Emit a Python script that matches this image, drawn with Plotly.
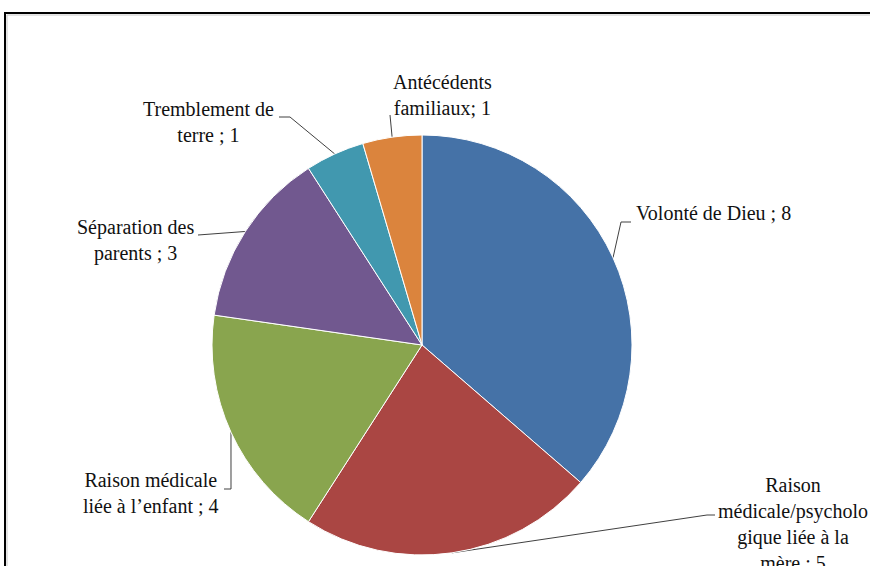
import math
import plotly.graph_objects as go

# ---- data ----
categories = ["Volonté de Dieu",
              "Raison médicale/psychologique liée à la mère",
              "Raison médicale liée à l’enfant",
              "Séparation des parents",
              "Tremblement de terre",
              "Antécédents familiaux"]
values = [8, 5, 4, 3, 1, 1]
label_text = ["Volonté de Dieu ; ",
              "Raison<br>médicale/psycholo<br>gique liée à la<br>mère ; ",
              "Raison médicale<br>liée à l’enfant ; ",
              "Séparation des<br>parents ; ",
              "Tremblement de<br>terre ; ",
              "Antécédents<br>familiaux; "]
colors = ["#4572A7", "#AA4643", "#89A54E", "#71588F", "#4198AF", "#DB843D"]

# ---- layout (pixel coordinates) ----
W, H = 870, 566
CX, CY, R = 422, 345, 210
label_pos = [(713, 213), (793, 524), (151, 493), (135, 240), (208, 122), (442, 95)]
leader_bends = [[(621, 222), (631, 222)],
                [(707, 515), (715, 515)],
                [(231, 489), (224, 489)],
                [(198, 235)],
                [(290, 117), (279, 117)],
                [(390, 115)]]
FONT = "Liberation Serif, Times New Roman, serif"

fig = go.Figure()
fig.add_trace(go.Pie(
    labels=categories, values=values, sort=False, direction="clockwise",
    rotation=0, marker=dict(colors=colors, line=dict(color="white", width=1)),
    textinfo="none", hoverinfo="label+value", showlegend=False,
    domain=dict(x=[(CX - R) / W, (CX + R) / W],
                y=[(H - CY - R) / H, (H - CY + R) / H]),
))

total = sum(values)
lx, ly = [], []
cum = 0
for v, bends in zip(values, leader_bends):
    mid = (cum + v / 2) / total * 2 * math.pi
    cum += v
    ex = CX + R * math.sin(mid)
    ey = CY - R * math.cos(mid)
    lx.append(ex); ly.append(ey)
    for bx, by in bends:
        lx.append(bx); ly.append(by)
    lx.append(None); ly.append(None)

fig.add_trace(go.Scatter(x=lx, y=ly, mode="lines",
                         line=dict(color="#404040", width=1),
                         hoverinfo="skip", showlegend=False))

for txt, v, (px, py) in zip(label_text, values, label_pos):
    fig.add_annotation(x=px, y=py, xref="x", yref="y", text=f"{txt}{v}",
                       showarrow=False, xanchor="center", yanchor="middle",
                       align="center",
                       font=dict(family=FONT, size=20, color="#111111"))

# chart border
fig.add_shape(type="rect", xref="x", yref="y", x0=7, y0=15, x1=W + 40, y1=H + 40,
              line=dict(color="#c8c8c8", width=1), layer="below")
fig.add_shape(type="rect", xref="x", yref="y", x0=5, y0=13, x1=W + 40, y1=H + 40,
              line=dict(color="black", width=2))

fig.update_layout(
    width=W, height=H, autosize=False,
    margin=dict(l=0, r=0, t=0, b=0),
    paper_bgcolor="white", plot_bgcolor="white",
    font=dict(family=FONT),
    xaxis=dict(range=[0, W], visible=False, fixedrange=True),
    yaxis=dict(range=[H, 0], visible=False, fixedrange=True),
)

fig.write_html("out.html", config={"displayModeBar": False},
               post_script="document.body.style.margin='0';")
